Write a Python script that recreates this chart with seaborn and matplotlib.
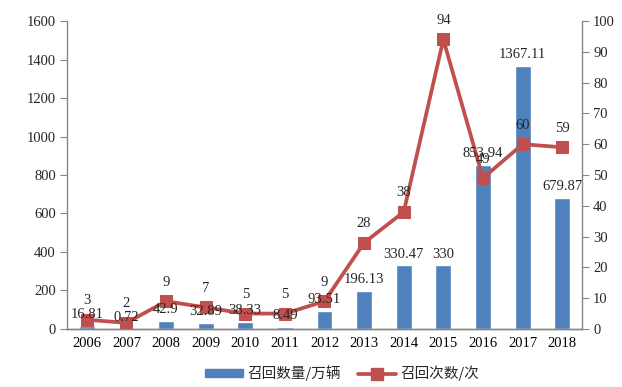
import numpy as np
import pandas as pd
import matplotlib
matplotlib.use("Agg")
import matplotlib.pyplot as plt
import seaborn as sns
from matplotlib.lines import Line2D
from matplotlib.patches import Patch

years = ["2006", "2007", "2008", "2009", "2010", "2011", "2012",
         "2013", "2014", "2015", "2016", "2017", "2018"]
recall_volume = [16.81, 0.72, 42.9, 32.89, 38.33, 8.49, 93.51,
                 196.13, 330.47, 330, 853.94, 1367.11, 679.87]
recall_count = [3, 2, 9, 7, 5, 5, 9, 28, 38, 94, 49, 60, 59]
volume_labels = ["16.81", "0.72", "42.9", "32.89", "38.33", "8.49", "93.51",
                 "196.13", "330.47", "330", "853.94", "1367.11", "679.87"]
count_labels = [str(v) for v in recall_count]
bar_name = "召回数量/万辆"
line_name = "召回次数/次"

sns.set_style("white")
plt.rcParams["font.family"] = ["Liberation Serif", "Noto Sans CJK SC"]

bar_color = "#4F81BD"
line_color = "#C0504D"
axis_color = "#868686"

df = pd.DataFrame({"year": years, "volume": recall_volume, "count": recall_count})

fig = plt.figure(figsize=(6.22, 3.87), dpi=100)
ax = fig.add_axes([0.1077, 0.1499, 0.828, 0.7958])
sns.barplot(data=df, x="year", y="volume", color=bar_color, width=0.4,
            saturation=1, ax=ax)
ax.set_ylim(0, 1600)
ax.set_xlim(-0.5, 12.5)
ax.set_yticks(range(0, 1601, 200))
ax.set_xlabel("")
ax.set_ylabel("")

ax2 = ax.twinx()
ax2.set_position(ax.get_position())
sns.lineplot(x=np.arange(len(years)), y=recall_count, ax=ax2, color=line_color,
             linewidth=2.7, marker="s", markersize=9, markeredgecolor=line_color,
             markerfacecolor=line_color)
ax2.set_ylim(0, 100)
ax2.set_yticks(range(0, 101, 10))
ax2.set_xlim(-0.5, 12.5)

for a in (ax, ax2):
    a.spines["top"].set_visible(False)
    for s in ("left", "right", "bottom"):
        a.spines[s].set_color(axis_color)
        a.spines[s].set_linewidth(1)
    a.grid(False)

ax.spines["right"].set_visible(False)
ax2.spines["left"].set_visible(False)

# x ticks: labels at centers, tick marks at category boundaries
ax.set_xticks(np.arange(len(years)))
ax.set_xticklabels(years)
ax.tick_params(axis="x", which="major", length=0, labelsize=10.5, pad=6, colors="black")
ax.set_xticks(np.arange(-0.5, len(years), 1), minor=True)
ax.tick_params(axis="x", which="minor", length=5, color=axis_color, direction="out")
ax.tick_params(axis="y", length=5, color=axis_color, direction="out", labelsize=10.5, pad=3)
ax2.tick_params(axis="y", length=5, color=axis_color, direction="out", labelsize=10.5, pad=3)
ax2.set_ylabel("")

# data labels (drawn on the top axes so they sit above the line)
for i, (v, lab) in enumerate(zip(recall_volume, volume_labels)):
    ax2.annotate(lab, (i, v), xycoords=ax.transData, xytext=(0, 3.5),
                 textcoords="offset points", ha="center", va="bottom",
                 fontsize=10.5, zorder=10)
for i, (v, lab) in enumerate(zip(recall_count, count_labels)):
    ax2.annotate(lab, (i, v), xytext=(0, 9), textcoords="offset points",
                 ha="center", va="bottom", fontsize=10.5, zorder=10)

handles = [Patch(facecolor=bar_color, edgecolor=bar_color),
           Line2D([0], [0], color=line_color, linewidth=2.7, marker="s",
                  markersize=8)]
fig.legend(handles, [bar_name, line_name], loc="center", bbox_to_anchor=(0.55, 0.035),
           ncol=2, frameon=False, handlelength=2.6,
           handleheight=0.5, columnspacing=1.2, handletextpad=0.3,
           prop={"family": ["Noto Sans CJK SC"], "size": 10.5})

fig.savefig("out.png", dpi=100)
